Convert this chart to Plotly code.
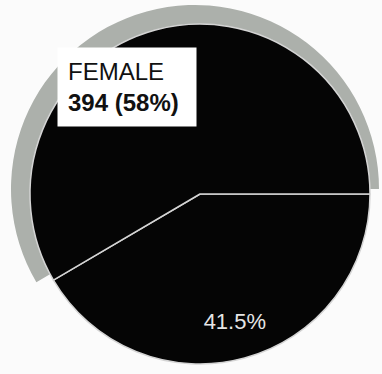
import plotly.graph_objects as go

labels = ["Male", "Female"]
values = [280, 394]

W, H = 382, 374
total = sum(values)
fem_pct = round(values[1] / total * 100)

fig = go.Figure()

# outer gray ring (only on the female slice)
fig.add_trace(go.Pie(
    labels=labels, values=values, sort=False, direction="clockwise", rotation=90,
    marker=dict(colors=["rgba(0,0,0,0)", "#acb0ab"], line=dict(width=0)),
    textinfo="none", hoverinfo="skip", showlegend=False,
    domain=dict(x=[11 / W, 379 / W], y=[0, 370 / H]),
))

# main black pie
fig.add_trace(go.Pie(
    labels=labels, values=values, sort=False, direction="clockwise", rotation=90,
    marker=dict(colors=["#050505", "#050505"], line=dict(color="#d4d4d4", width=1.5)),
    textinfo="none", hoverinfo="skip", showlegend=False,
    domain=dict(x=[30 / W, 370 / W], y=[(180 - 170) / H, (180 + 170) / H]),
))

# transparent overlay used only to place the percentage label further out
fig.add_trace(go.Pie(
    labels=labels, values=values, sort=False, direction="clockwise", rotation=90,
    hole=0.56,
    marker=dict(colors=["rgba(0,0,0,0)", "rgba(0,0,0,0)"], line=dict(width=0)),
    texttemplate=["%{percent:.1%}", ""], textposition="inside",
    insidetextorientation="horizontal",
    textfont=dict(color="#e6e6e6", size=22, family="Liberation Sans, Arial"),
    hoverinfo="skip", showlegend=False,
    domain=dict(x=[30 / W, 370 / W], y=[(180 - 170) / H, (180 + 170) / H]),
))

fig.add_annotation(
    x=57 / W, y=1 - 47 / H, xref="paper", yref="paper",
    xanchor="left", yanchor="top", showarrow=False, align="left",
    text=f"{labels[1].upper()}<br><b>{values[1]} ({fem_pct}%)</b>",
    font=dict(color="#111111", size=24, family="Liberation Sans, Arial"),
    bgcolor="white", borderpad=10, width=118,
)

fig.update_layout(
    width=W, height=H, margin=dict(l=0, r=0, t=0, b=0),
    paper_bgcolor="#fbfbfb", plot_bgcolor="#fbfbfb", showlegend=False,
)

fig.write_html("out.html", config={"displayModeBar": False},
               post_script="document.body.style.margin='0';")
